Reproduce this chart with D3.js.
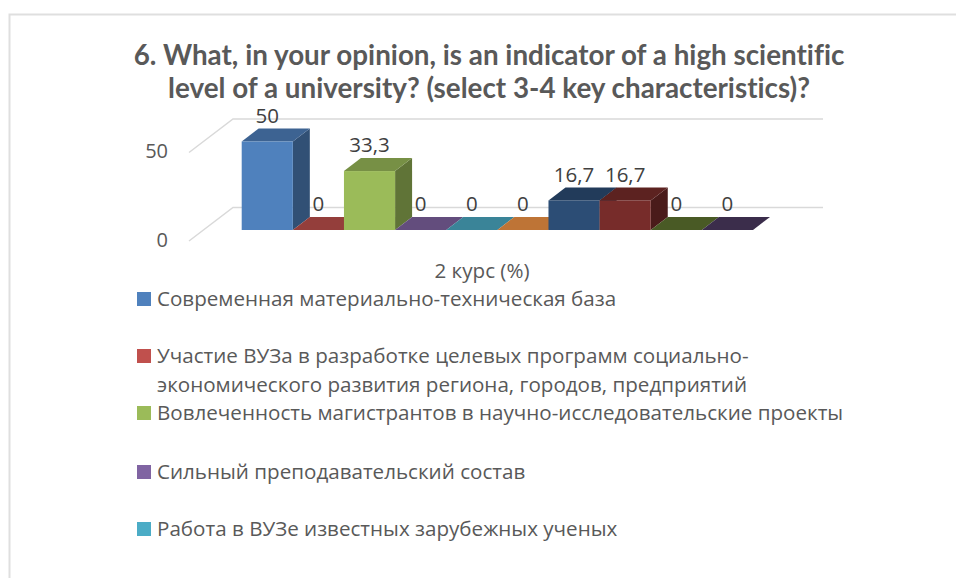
<!DOCTYPE html>
<html>
<head>
<meta charset="utf-8">
<script src="https://cdn.jsdelivr.net/npm/d3@7"></script>
<style>
    html, body { margin: 0; padding: 0; background: #fff; }
    svg { display: block; }
    text { font-variant-ligatures: none; }
</style>
</head>
<body>
<div id="chart"></div>
<script>
const titleLines = [
    "6. What, in your opinion, is an indicator of a high scientific",
    "level of a university? (select 3-4 key characteristics)?"
];
const categoryLabel = "2 курс (%)";
const seriesIds = ["s1", "s2", "s3", "s4", "s5", "s6", "s7", "s8", "s9", "s10"];
const seriesValues = [50, 0, 33.3, 0, 0, 0, 16.7, 16.7, 0, 0];
const seriesLabels = ["50", "0", "33,3", "0", "0", "0", "16,7", "16,7", "0", "0"];
const seriesColors = ["#4f81bd", "#c0504d", "#9bbb59", "#8064a2", "#4bacc6", "#f79646",
    "#2c4d75", "#772c2a", "#5f7530", "#4d3b62"];
const yTicks = [0, 50];
const legendLines = [
    ["Современная материально-техническая база"],
    ["Участие ВУЗа в разработке целевых программ социально-", "экономического развития региона, городов, предприятий"],
    ["Вовлеченность магистрантов в научно-исследовательские проекты"],
    ["Сильный преподавательский состав"],
    ["Работа в ВУЗе известных зарубежных ученых"]
];
const legendBaselines = [306, 363, 420, 479, 536];

const width = 956;
const height = 578;
const textColor = "#595959";
const fontName = "'Open Sans', sans-serif";

const svg = d3.select("#chart").append("svg")
    .attr("width", width)
    .attr("height", height)
    .attr("viewBox", [0, 0, width, height]);

// outer chart frame, cropped on the right and bottom
svg.append("path")
    .attr("d", "M9.5 578V14.5H956")
    .attr("fill", "none")
    .attr("stroke", "#dfdfdf")
    .attr("stroke-width", 2);

svg.selectAll(".title")
    .data(titleLines)
    .join("text")
        .attr("class", "title")
        .attr("x", 489)
        .attr("y", (d, i) => 65 + i * 33)
        .attr("text-anchor", "middle")
        .attr("font-family", "Lato, 'Open Sans', sans-serif")
        .attr("font-weight", 700)
        .attr("font-size", 27.8)
        .attr("fill", textColor)
        .text(d => d);

const x = d3.scaleBand().domain(seriesIds).range([241.7, 753]);
const y = d3.scaleLinear().domain([0, 50]).range([230, 141.5]);

// depth of the 3d boxes and of the walls
const depthX = 17;
const depthY = 13;
const wallBackX = 233;
const wallBackRise = 22.5;
const wallFrontX = 189;
const wallFrontDrop = 11;
const wallRight = 823;

const grid = svg.append("g")
    .attr("fill", "none")
    .attr("stroke", "#d9d9d9")
    .attr("stroke-width", 1.5);

grid.selectAll("path")
    .data(yTicks)
    .join("path")
        .attr("d", d => {
            const p = d3.path();
            p.moveTo(wallFrontX, y(d) + wallFrontDrop);
            p.lineTo(wallBackX, y(d) - wallBackRise);
            p.lineTo(wallRight, y(d) - wallBackRise);
            return p.toString();
        });

const axis = d3.axisLeft(y).tickValues(yTicks).tickSize(0).tickPadding(0);
const axisGroup = svg.append("g")
    .attr("transform", "translate(168,10)")
    .call(axis);
axisGroup.select(".domain").remove();
axisGroup.selectAll("text")
    .attr("font-family", fontName)
    .attr("font-size", 20)
    .attr("fill", textColor);

function shade(color, k) {
    const c = d3.rgb(color);
    return d3.rgb(c.r * k, c.g * k, c.b * k).formatHex();
}

const bars = svg.selectAll(".bar")
    .data(seriesIds)
    .join("g")
        .attr("class", "bar");

bars.each(function(id, i) {
    const g = d3.select(this);
    const x0 = x(id);
    const x1 = x0 + x.bandwidth();
    const top = y(seriesValues[i]);
    const base = y(0);
    const color = seriesColors[i];

    g.append("polygon")
        .attr("points", [[x1, base], [x1 + depthX, base - depthY], [x1 + depthX, top - depthY], [x1, top]].join(" "))
        .attr("fill", shade(color, 0.62));
    g.append("polygon")
        .attr("points", [[x0, top], [x0 + depthX, top - depthY], [x1 + depthX, top - depthY], [x1, top]].join(" "))
        .attr("fill", shade(color, 0.77));
    g.append("rect")
        .attr("x", x0)
        .attr("y", top)
        .attr("width", x.bandwidth())
        .attr("height", base - top)
        .attr("fill", color);
});

svg.selectAll(".value")
    .data(seriesIds)
    .join("text")
        .attr("class", "value")
        .attr("x", d => x(d) + x.bandwidth() / 2)
        .attr("y", (d, i) => y(seriesValues[i]) - 18.7)
        .attr("text-anchor", "middle")
        .attr("font-family", fontName)
        .attr("font-size", 20.5)
        .attr("fill", "#404040")
        .text((d, i) => seriesLabels[i]);

svg.append("text")
    .attr("x", 482)
    .attr("y", 278)
    .attr("text-anchor", "middle")
    .attr("font-family", fontName)
    .attr("font-size", 20.6)
    .attr("fill", textColor)
    .text(categoryLabel);

const legend = svg.selectAll(".legend")
    .data(legendLines)
    .join("g")
        .attr("class", "legend");

legend.append("rect")
    .attr("x", 137)
    .attr("y", (d, i) => legendBaselines[i] - 14)
    .attr("width", 14)
    .attr("height", 14)
    .attr("fill", (d, i) => seriesColors[i]);

legend.each(function(lines, i) {
    d3.select(this).selectAll("text")
        .data(lines)
        .join("text")
            .attr("x", 157)
            .attr("y", (d, j) => legendBaselines[i] + j * 29)
            .attr("font-family", fontName)
            .attr("font-size", 20.6)
            .attr("fill", textColor)
            .text(d => d);
});
</script>
</body>
</html>
